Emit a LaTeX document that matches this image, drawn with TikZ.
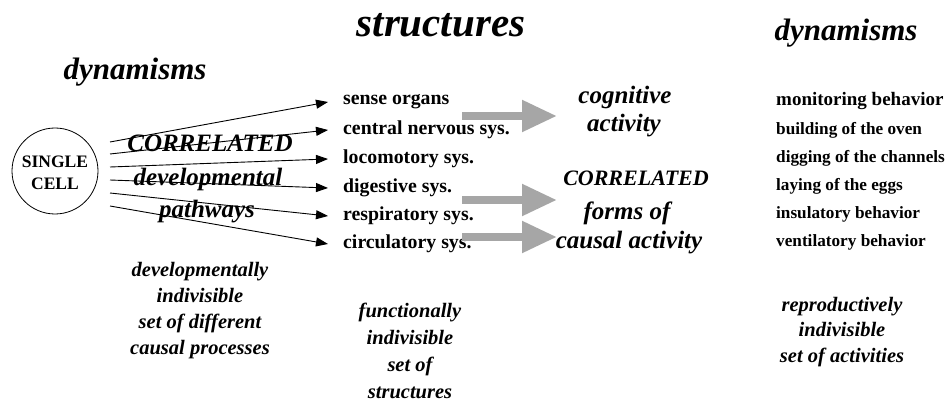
\documentclass[tikz,border=0pt]{standalone}
\usepackage{fontspec}
\setmainfont{Liberation Serif}
\usetikzlibrary{arrows.meta}
\begin{document}
\begin{tikzpicture}[x=1pt,y=-1pt,
  every node/.style={inner sep=0pt},
  head/.style={font=\fontsize{31}{31}\selectfont\bfseries\itshape},
  lbl/.style={font=\fontsize{25}{25}\selectfont\bfseries\itshape},
  mid/.style={font=\fontsize{25}{25}\selectfont\bfseries\itshape},
  midcap/.style={font=\fontsize{22}{22}\selectfont\bfseries\itshape},
  foot/.style={font=\fontsize{20.5}{20.5}\selectfont\bfseries\itshape, align=center},
  item/.style={font=\fontsize{19.8}{19.8}\selectfont\bfseries, anchor=west},
  act/.style={font=\fontsize{17.2}{17.2}\selectfont\bfseries, anchor=west},
  dev/.style={-{Triangle[length=12pt,width=9pt]}, line width=0.9pt},
  big/.style={line width=8pt, draw=black!35, -{Triangle[length=35pt,width=30pt,fill=black!35]}}
]
\useasboundingbox (0,0) rectangle (950,406);
% headings
\node[head] (h1) at (135,72) {dynamisms};
\node[head, font=\fontsize{41}{41}\selectfont\bfseries\itshape] (h2) at (441,25) {structures};
\node[head] (h3) at (846,33) {dynamisms};
% single cell
\node[draw, circle, minimum size=86pt, line width=0.8pt] (cell) at (55,171) {};
\node[font=\fontsize{17.5}{17.5}\selectfont\bfseries, align=center] (celltxt) at (55,173) {SINGLE\\[5pt]CELL};
% structures
\node[item] (s1) at (343,102) {sense organs};
\node[item] (s2) at (343,130) {central nervous sys.};
\node[item] (s3) at (343,159) {locomotory sys.};
\node[item] (s4) at (343,188) {digestive sys.};
\node[item] (s5) at (343,216) {respiratory sys.};
\node[item] (s6) at (343,244) {circulatory sys.};
% developmental pathways
\foreach \i/\y in {1/142,2/154,3/167,4/180,5/193,6/206}{
  \coordinate (p\i) at (110,\y);
  \draw[dev] (p\i) -- ([xshift=-15pt]s\i.west);
}
% labels on arrows
\node[lbl] (l1) at (210,143) {CORRELATED};
\node[lbl] (l2) at (208,179) {developmental};
\node[lbl] (l3) at (207,212) {pathways};
% middle
\node[mid] (m1) at (625,97) {cognitive};
\node[mid] (m2) at (624,126) {activity};
\node[midcap] (m3) at (636,178) {CORRELATED};
\node[mid] (m4) at (627,213) {forms of};
\node[mid] (m5) at (629,243) {causal activity};
% gray arrows
\coordinate (g1) at (462,116); \coordinate (G1) at (557,116);
\coordinate (g2) at (462,200); \coordinate (G2) at (557,200);
\coordinate (g3) at (462,237); \coordinate (G3) at (557,237);
\draw[big] (g1) -- (G1);
\draw[big] (g2) -- (G2);
\draw[big] (g3) -- (G3);
% activities
\node[act, font=\fontsize{19}{19}\selectfont\bfseries] (a1) at (776,101) {monitoring behavior};
\node[act] (a2) at (776,130) {building of the oven};
\node[act] (a3) at (776,158) {digging of the channels};
\node[act] (a4) at (776,186) {laying of the eggs};
\node[act] (a5) at (776,214) {insulatory behavior};
\node[act] (a6) at (776,242) {ventilatory behavior};
% footers
\node[foot] (f1) at (200,311) {developmentally\\[5.5pt]indivisible\\[5.5pt]set of different\\[5.5pt]causal processes};
\node[foot] (f2) at (410,351) {functionally\\[6.5pt]indivisible\\[6.5pt]set of\\[6.5pt]structures};
\node[foot] (f3) at (842,332) {reproductively\\[5pt]indivisible\\[5pt]set of activities};
\end{tikzpicture}
\end{document}
